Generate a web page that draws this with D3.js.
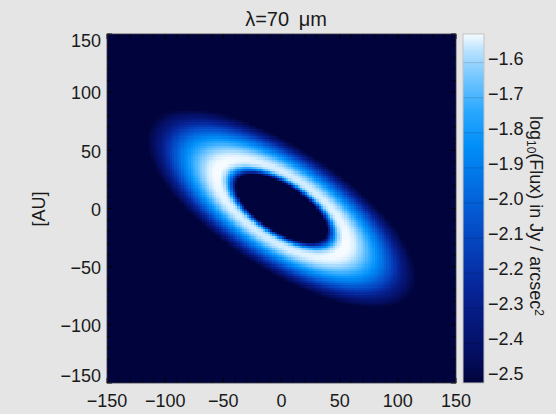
<!DOCTYPE html>
<html>
<head>
<meta charset="utf-8">
<script src="https://cdn.jsdelivr.net/npm/d3@7"></script>
<style>
  body { margin: 0; background: #e5e5e5; }
  text { font-family: "Liberation Sans", Arial, Helvetica, sans-serif; fill: #1a1a1a; }
</style>
</head>
<body>
<svg id="chart" width="556" height="414"></svg>
<script>
// ring brightness along the disc radius (AU -> log10 flux)
// at the ansae (major axis) and at the near/far sides (minor axis)
var profileRadius = [0, 41, 45, 48, 51, 54, 57, 61, 67, 73, 80, 88, 96, 104, 112, 120, 128, 136, 146, 160];
var profileMajor = [-3.0, -2.9, -2.5, -2.2, -1.92, -1.7, -1.58, -1.53, -1.53, -1.56, -1.64, -1.75, -1.88, -2.03, -2.19, -2.34, -2.46, -2.56, -2.66, -2.8];
var profileMinor = [-3.0, -2.9, -2.5, -2.2, -1.92, -1.7, -1.6, -1.56, -1.56, -1.61, -1.72, -1.88, -2.06, -2.24, -2.42, -2.55, -2.64, -2.72, -2.8, -2.9];

var inclinationCos = 0.44;
var positionAngle = -33;
var cellSize = 2;

var axisTicks = [-150, -100, -50, 0, 50, 100, 150];
var colorTicks = [-2.5, -2.4, -2.3, -2.2, -2.1, -2.0, -1.9, -1.8, -1.7, -1.6];
var colorDomain = [-2.526, -1.531];
var colorStops = [-2.526, -2.45, -2.35, -2.25, -2.15, -2.05, -1.95, -1.85, -1.75, -1.65, -1.58, -1.531];
var colorStopColors = ["#01043c", "#040d5e", "#05187c", "#06269a", "#053eb8", "#0456d0",
                       "#0272e4", "#008ef8", "#2aa8ff", "#78c8ff", "#b8e2ff", "#f6fbff"];

var plotL = 107, plotR = 456, plotT = 34, plotB = 383;
var svg = d3.select("#chart");

var x = d3.scaleLinear().domain([-150, 150]).range([plotL, plotR]);
var y = d3.scaleLinear().domain([-150, 150]).range([plotB, plotT]);
var color = d3.scaleLinear().domain(colorStops).range(colorStopColors).clamp(true);
var majorScale = d3.scaleLinear().domain(profileRadius).range(profileMajor).clamp(true);
var minorScale = d3.scaleLinear().domain(profileRadius).range(profileMinor).clamp(true);

// image
var canvas = document.createElement("canvas");
canvas.width = plotR - plotL;
canvas.height = plotB - plotT;
var ctx = canvas.getContext("2d");
var pa = positionAngle * Math.PI / 180;

d3.range(-150, 150, cellSize).forEach(function (gx) {
  d3.range(-150, 150, cellSize).forEach(function (gy) {
    var px = gx + cellSize / 2, py = gy + cellSize / 2;
    var u = px * Math.cos(pa) + py * Math.sin(pa);
    var v = (-px * Math.sin(pa) + py * Math.cos(pa)) / inclinationCos;
    var r = Math.sqrt(u * u + v * v);
    var c2 = r > 0 ? (u * u) / (r * r) : 1;
    var val = c2 * majorScale(r) + (1 - c2) * minorScale(r);
    var x0 = Math.round(x(gx) - plotL), x1 = Math.round(x(gx + cellSize) - plotL);
    var y0 = Math.round(y(gy + cellSize) - plotT), y1 = Math.round(y(gy) - plotT);
    ctx.fillStyle = color(val);
    ctx.fillRect(x0, y0, x1 - x0, y1 - y0);
  });
});

svg.append("image")
  .attr("x", plotL).attr("y", plotT)
  .attr("width", plotR - plotL).attr("height", plotB - plotT)
  .attr("href", canvas.toDataURL());

// inner ticks on all sides
var minor = d3.range(-150, 151, 10);
var tickG = svg.append("g").attr("stroke", "#000").attr("stroke-width", 1);
minor.forEach(function (t) {
  var len = t % 50 === 0 ? 5 : 3;
  tickG.append("line").attr("x1", x(t)).attr("x2", x(t)).attr("y1", plotB).attr("y2", plotB - len);
  tickG.append("line").attr("x1", x(t)).attr("x2", x(t)).attr("y1", plotT).attr("y2", plotT + len);
  tickG.append("line").attr("y1", y(t)).attr("y2", y(t)).attr("x1", plotL).attr("x2", plotL + len);
  tickG.append("line").attr("y1", y(t)).attr("y2", y(t)).attr("x1", plotR).attr("x2", plotR - len);
});

svg.append("rect")
  .attr("x", plotL).attr("y", plotT)
  .attr("width", plotR - plotL).attr("height", plotB - plotT)
  .attr("fill", "none").attr("stroke", "#3a3a48").attr("stroke-width", 0.8);

// axis labels
var fmt = d3.format("d");
svg.append("g").selectAll("text").data(axisTicks).enter().append("text")
  .attr("x", function (d) { return x(d); })
  .attr("y", 407)
  .attr("text-anchor", "middle")
  .style("font-size", "18px")
  .text(fmt);

svg.append("g").selectAll("text").data(axisTicks).enter().append("text")
  .attr("x", 101)
  .attr("y", function (d) { return Math.max(41, Math.min(376, y(d) + 1)); })
  .attr("dy", "0.35em")
  .attr("text-anchor", "end")
  .style("font-size", "18px")
  .text(fmt);

svg.append("text")
  .attr("x", 286).attr("y", 26)
  .attr("text-anchor", "middle")
  .style("font-size", "20px")
  .style("word-spacing", "4px")
  .text("\u03bb=70 \u03bcm");

svg.append("text")
  .attr("transform", "translate(45,209) rotate(-90)")
  .attr("text-anchor", "middle")
  .style("font-size", "18px")
  .text("[AU]");

// colorbar
var cbLeft = 463, cbRight = 484;
var cbScale = d3.scaleLinear().domain(colorDomain).range([plotB, plotT]);
var grad = svg.append("defs").append("linearGradient")
  .attr("id", "cbgrad").attr("x1", 0).attr("y1", 1).attr("x2", 0).attr("y2", 0);
colorStops.forEach(function (s, i) {
  grad.append("stop")
    .attr("offset", (s - colorDomain[0]) / (colorDomain[1] - colorDomain[0]))
    .attr("stop-color", colorStopColors[i]);
});
svg.append("rect")
  .attr("x", cbLeft).attr("y", plotT)
  .attr("width", cbRight - cbLeft).attr("height", plotB - plotT)
  .attr("fill", "url(#cbgrad)");

svg.append("g").selectAll("line").data(colorTicks).enter().append("line")
  .attr("x1", cbLeft).attr("x2", cbRight)
  .attr("y1", function (d) { return cbScale(d) + 4.5; })
  .attr("y2", function (d) { return cbScale(d) + 4.5; })
  .attr("stroke", "#000").attr("stroke-opacity", 0.15);

svg.append("rect")
  .attr("x", cbLeft).attr("y", plotT)
  .attr("width", cbRight - cbLeft).attr("height", plotB - plotT)
  .attr("fill", "none").attr("stroke", "#c4c4c4").attr("stroke-width", 1);

svg.append("g").selectAll("text").data(colorTicks).enter().append("text")
  .attr("x", 488)
  .attr("y", function (d) { return cbScale(d); })
  .attr("dy", "0.35em")
  .style("font-size", "18px")
  .text(d3.format(".1f"));

var cbLabel = svg.append("text")
  .attr("transform", "translate(530,216) rotate(90)")
  .attr("text-anchor", "middle")
  .style("font-size", "18px");
cbLabel.append("tspan").text("log");
cbLabel.append("tspan").attr("baseline-shift", "-25%").style("font-size", "12px").text("10");
cbLabel.append("tspan").text("(Flux) in Jy / arcsec");
cbLabel.append("tspan").attr("baseline-shift", "40%").style("font-size", "12px").text("2");
</script>
</body>
</html>
